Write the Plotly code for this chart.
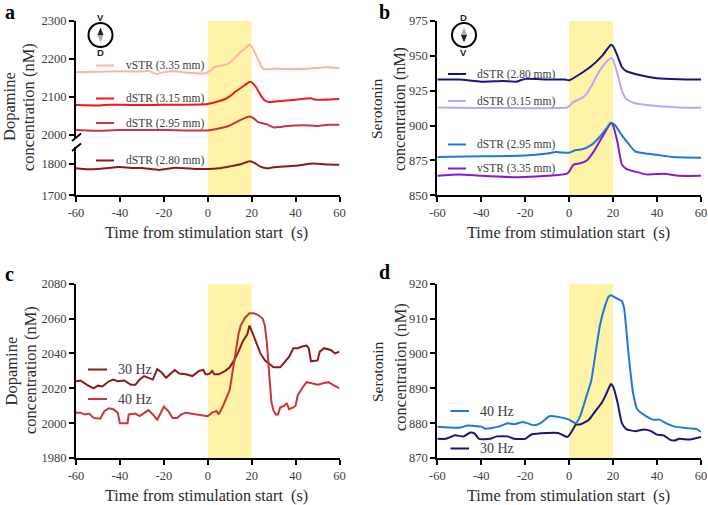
import plotly.graph_objects as go

W, H = 708, 505

# ---------- data ----------
a_vstr335_x = [-60,-50,-40,-30,-27,-23,-20,-15,-10,-5,-1,0,2,3,6,7,9,11,13,15,17,19,20,22,24,25,27,30,40,50,53,60]
a_vstr335_y = [2165,2166,2167,2167,2168,2160,2165,2167,2164,2162,2162,2165,2172,2178,2182,2183,2186,2195,2207,2218,2227,2237,2232,2210,2185,2175,2172,2174,2173,2176,2178,2176]
a_dstr315_x = [-60,-50,-45,-40,-30,-20,-10,0,5,8,10,13,16,19,20,22,24,26,28,32,40,47,49,53,60]
a_dstr315_y = [2078,2077,2079,2079,2078,2079,2079,2081,2088,2094,2101,2115,2127,2139,2138,2125,2105,2090,2086,2088,2092,2096,2092,2092,2094]
a_dstr295_x = [-60,-52,-40,-20,0,5,10,15,19,21,23,27,30,33,35,44,50,55,60]
a_dstr295_y = [2012,2010,2012,2012,2011,2016,2024,2039,2048,2043,2033,2027,2019,2020,2022,2025,2023,2026,2026]
a_dstr280_x = [-60,-55,-50,-40,-35,-30,-22,-15,-5,0,5,10,15,19,21,24,27,30,40,48,55,60]
a_dstr280_y = [1785,1782,1783,1789,1786,1786,1780,1787,1783,1783,1785,1791,1798,1807,1803,1790,1785,1788,1793,1800,1797,1796]

b_dstr280_x = [-60,-50,-40,-30,-24,-20,-10,-2,0,5,10,15,19,20,22,24,26,30,40,50,60]
b_dstr280_y = [933,933,931.5,932,931.5,933.5,933,933,932.5,937,942.5,950,958,957,950,942,939,937,934,933.2,933]
b_dstr315_x = [-60,-1,0,2,4,6,8,10,13,16,19,20,22,24,26,30,40,50,60]
b_dstr315_y = [913,913,914,917,918.5,920,923,928,937,944,948.5,947,937,925,919,916,914,913,912.7]
b_vstr335_x = [-60,-50,-40,-25,-15,-5,-1,0,2,5,8,11,14,17,19,20,22,24,26,30,35,43,50,60]
b_vstr335_y = [864,865,864,863,863.5,864.5,865.5,867,872,873,875,881,889,897,902,900,888,872,869,867,865,865.5,864,864]
b_dstr295_x = [-60,-40,-20,-10,-6,0,3,6,10,14,17,19,21,24,27,30,35,40,47,60]
b_dstr295_y = [877.5,878,878.5,880,881,880.5,882.5,883,886,892,898,902,900,893,887,881.5,880,879,877.5,877]

c_30_x = [-60,-58,-55,-52,-50,-48,-45,-43,-41,-38,-35,-33,-31,-29,-27,-25,-23,-21,-19,-17,-15,-13,-10,-7,-4,-2,-1,0,1,2,3,5,8,10,12,14,16,18,19,20,22,24,26,28,30,33,35,37,39,41,43,45,46,47,50,51,53,56,58,60]
c_30_y = [2024,2024.5,2022,2020,2021.5,2021,2024,2025,2024,2024.5,2022,2022,2025,2027,2026,2025,2031,2029,2026,2028,2030.5,2028.5,2028,2027,2030,2030.5,2028,2028,2028.5,2030,2028,2028,2030,2032,2036,2041,2047,2051,2056,2053,2047,2040,2036,2034,2032,2032,2035,2038,2043,2043,2044,2044.5,2043,2035.5,2036,2041,2043,2042,2040,2041]
c_40_x = [-60,-58,-56,-54,-52,-49,-47,-45,-43,-41,-40,-38,-36.5,-36,-33,-31,-29,-27,-25,-23,-21,-20,-18,-16,-14,-12,-10,-5,0,2,4,5,7,9,10,11,12,13,14,15,17,19,21,23,25,26,27,28,29,30,31,32,33,35,36,37,39,40,41,43,45,47,50,53,55,57,60]
c_40_y = [2006,2006,2005,2005.5,2003,2002.5,2007,2008.5,2008,2006,2000,2000,2000,2005,2005.5,2004,2006,2007.5,2005,2002,2007,2009.5,2007,2003,2003,2005,2006,2005,2004,2006,2007,2005,2010,2016,2019,2027,2035,2043,2051,2056,2060.5,2063,2063,2062,2060,2056,2045,2028,2012,2007,2005,2005,2009,2010,2011.5,2008,2009,2010,2016,2020,2023.5,2023,2022,2023,2023.5,2022,2020]

d_40_x = [-60,-50,-46,-40,-38,-32,-28,-25,-21,-16,-13,-9,-5,0,3,5,8,10,12,14,16,18,19,21,24,25,27,29,31,35,38,41,44,48,55,58,60]
d_40_y = [879,878.7,879.3,879,878.4,879,880,879.7,880.3,879.4,880,882,881.8,881,880,882,888,892,900,908,913,916.3,916.7,916,915,913,900,889,884,882,881,881,880,879,878.5,878.3,877.5]
d_30_x = [-60,-56,-52,-48,-45,-43,-41,-36,-33,-28,-25,-20,-17,-10,-5,-1,0,2,3,5,9,12,15,17,19,20,22,24,26,30,34,37,40,43,46,48,50,55,60]
d_30_y = [875.5,875.5,876.5,876.2,877.3,877,875.5,875.5,876.2,876.2,875.5,875.5,876.8,877.2,877.2,876,876.5,878.5,879.6,879.6,881,883.5,886,888.5,891.2,890.5,886,880,878.3,877.7,878.2,877.8,876.7,876.5,875.2,875,875.5,875.3,876]

x_ticks = [-60,-40,-20,0,20,40,60]
x_title = "Time from stimulation start  (s)"
stim_window = [0, 20]

C_SALMON, C_RED, C_MID, C_DARK = "#FBB5A5", "#F0181E", "#C8373A", "#8A1A1E"
C_NAVY, C_LILAC, C_BLUE, C_PURPLE = "#16167E", "#BBA8F2", "#1B78DC", "#8A18D0"
YELLOW = "#FEF3A6"
SERIF = "Liberation Serif"
TICK_C = "#3c3c3c"
TITLE_C = "#2a2a2a"

# panel pixel boxes: left, right, top, bottom
BOX = {"a": (76, 339.5, 21, 195.3), "b": (437.3, 701, 21, 195.3),
       "c": (76, 339.5, 283.7, 458), "d": (437.3, 701, 283.7, 458)}
px = lambda v: v / W
py = lambda v: 1 - v / H

fig = go.Figure()
layout = dict(template="none", width=W, height=H, margin=dict(l=0, r=0, t=0, b=0, pad=0, autoexpand=False),
              paper_bgcolor="white", plot_bgcolor="rgba(0,0,0,0)", showlegend=False,
              font=dict(family=SERIF, color=TICK_C))
shapes, annos = [], []

axis_common = dict(showgrid=False, zeroline=False, showline=True, linecolor="black", linewidth=2,
                   automargin=False, ticks="outside", tickcolor="black", tickwidth=1.6, ticklen=5,
                   tickfont=dict(family=SERIF, size=12.5, color=TICK_C))

def xaxis(box, anchor):
    return dict(domain=[px(box[0]), px(box[1])], range=[-60, 60], tickmode="array", tickvals=x_ticks,
                ticktext=[str(t) for t in x_ticks], anchor=anchor, **axis_common)

def yaxis(top, bottom, rng, ticks, anchor):
    return dict(domain=[py(bottom), py(top)], range=rng, tickmode="array", tickvals=ticks,
                ticktext=[str(t) for t in ticks], anchor=anchor, **axis_common)

# panel a: broken axis made of two y axes
layout["xaxis"] = xaxis(BOX["a"], "y2")
layout["yaxis"] = yaxis(21, 137.5, [1992.4, 2300], [2000, 2100, 2200, 2300], "x")
layout["yaxis2"] = yaxis(147, 195.3, [1700, 1852], [1700, 1800], "x")
# panel b
layout["xaxis2"] = xaxis(BOX["b"], "y3")
layout["yaxis3"] = yaxis(21, 195.3, [850, 975], [850, 875, 900, 925, 950, 975], "x2")
# panel c
layout["xaxis3"] = xaxis(BOX["c"], "y4")
layout["yaxis4"] = yaxis(283.7, 458, [1980, 2080], [1980, 2000, 2020, 2040, 2060, 2080], "x3")
# panel d
layout["xaxis4"] = xaxis(BOX["d"], "y5")
layout["yaxis5"] = yaxis(283.7, 458, [870, 920], [870, 880, 890, 900, 910, 920], "x4")

def line(x, y, color, xa, ya, shape="spline"):
    fig.add_trace(go.Scatter(x=x, y=y, mode="lines", line=dict(color=color, width=2, shape=shape, smoothing=0.5),
                             xaxis=xa, yaxis=ya, hoverinfo="skip", cliponaxis=False))

line(a_vstr335_x, a_vstr335_y, C_SALMON, "x", "y")
line(a_dstr315_x, a_dstr315_y, C_RED, "x", "y")
line(a_dstr295_x, a_dstr295_y, C_MID, "x", "y")
line(a_dstr280_x, a_dstr280_y, C_DARK, "x", "y2")
line(b_dstr280_x, b_dstr280_y, C_NAVY, "x2", "y3")
line(b_dstr315_x, b_dstr315_y, C_LILAC, "x2", "y3")
line(b_vstr335_x, b_vstr335_y, C_PURPLE, "x2", "y3")
line(b_dstr295_x, b_dstr295_y, C_BLUE, "x2", "y3")
line(c_30_x, c_30_y, C_DARK, "x3", "y4", "linear")
line(c_40_x, c_40_y, C_MID, "x3", "y4", "linear")
line(d_30_x, d_30_y, C_NAVY, "x4", "y5")
line(d_40_x, d_40_y, C_BLUE, "x4", "y5")

# stimulation window
for key, xa in zip("abcd", ["x", "x2", "x3", "x4"]):
    b = BOX[key]
    shapes.append(dict(type="rect", xref=xa, yref="paper", x0=stim_window[0], x1=stim_window[1],
                       y0=py(b[3]), y1=py(b[2]), fillcolor=YELLOW, line=dict(width=0), layer="below"))

def pxline(x0, y0, x1, y1, color, width):
    shapes.append(dict(type="line", xref="paper", yref="paper", x0=px(x0), x1=px(x1), y0=py(y0), y1=py(y1),
                       line=dict(color=color, width=width)))

def text(x, y, s, size=13, color=TICK_C, angle=0, anchor="center", bold=False, family=SERIF):
    annos.append(dict(xref="paper", yref="paper", x=px(x), y=py(y), text=f"<b>{s}</b>" if bold else s,
                      showarrow=False, xanchor=anchor, yanchor="middle", textangle=angle, borderpad=0,
                      font=dict(family=family, size=size, color=color)))

# axis break slashes
pxline(72, 141, 81, 133.5, "black", 1.8)
pxline(72, 151, 81, 143.5, "black", 1.8)

# in-plot legends
legend = [
    (96, 114, 65.5, C_SALMON, 124.5, "vSTR (3.35 mm)"), (96, 114, 98.5, C_RED, 124.5, "dSTR (3.15 mm)"),
    (96, 114, 123, C_MID, 124.5, "dSTR (2.95 mm)"), (96, 114, 160.5, C_DARK, 124.5, "dSTR (2.80 mm)"),
    (448, 466, 74, C_NAVY, 476, "dSTR (2.80 mm)"), (448, 466, 101, C_LILAC, 476, "dSTR (3.15 mm)"),
    (448, 466, 144.5, C_BLUE, 476, "dSTR (2.95 mm)"), (448, 466, 168.5, C_PURPLE, 476, "vSTR (3.35 mm)"),
    (88, 107, 369.5, C_DARK, 116.5, "30 Hz"), (88, 107, 399, C_MID, 116.5, "40 Hz"),
    (450.5, 469, 411, C_BLUE, 479, "40 Hz"), (450.5, 469, 448.5, C_NAVY, 479, "30 Hz"),
]
for x0, x1, y, col, tx, label in legend:
    pxline(x0, y, x1, y, col, 2)
    text(tx, y + 0.3, label, size=14 if "Hz" in label else 11.5, anchor="left")

# titles
for key in "abcd":
    b = BOX[key]
    text((b[0] + b[1]) / 2 - 1, b[3] + 38, x_title, size=16.2, color=TITLE_C)

text(10, 107, "Dopamine", size=16.5, color=TITLE_C, angle=-90)
text(29, 107, "concentration (nM)", size=16.5, color=TITLE_C, angle=-90)
text(377, 108, "Serotonin", size=15.5, color=TITLE_C, angle=-90)
text(400, 109, "concentration (nM)", size=16, color=TITLE_C, angle=-90)
text(10.5, 371, "Dopamine", size=16.5, color=TITLE_C, angle=-90)
text(30, 370, "concentration (nM)", size=16.5, color=TITLE_C, angle=-90)
text(377, 371, "Serotonin", size=15.5, color=TITLE_C, angle=-90)
text(400, 367, "concentration (nM)", size=16.5, color=TITLE_C, angle=-90)

# panel letters
for s, x, y in [("a", 10, 12), ("b", 385, 12), ("c", 9.5, 273.5), ("d", 385, 272)]:
    text(x, y, s, size=20, color="black", bold=True)

# orientation badges
def compass(cx, cy, top, bottom, top_color, bottom_color):
    shapes.append(dict(type="circle", xref="paper", yref="paper", x0=px(cx - 12), x1=px(cx + 12),
                       y0=py(cy + 12), y1=py(cy - 12), line=dict(color="black", width=2), fillcolor="white"))
    up = f"M {px(cx-3)} {py(cy)} L {px(cx)} {py(cy-7.5)} L {px(cx+3)} {py(cy)} Z"
    dn = f"M {px(cx-3)} {py(cy)} L {px(cx)} {py(cy+7.5)} L {px(cx+3)} {py(cy)} Z"
    shapes.append(dict(type="path", xref="paper", yref="paper", path=up, fillcolor=top_color, line=dict(width=0)))
    shapes.append(dict(type="path", xref="paper", yref="paper", path=dn, fillcolor=bottom_color, line=dict(width=0)))
    text(cx, cy - 17.5, top, size=9.5, color="#222222", bold=True, family="Liberation Sans")
    text(cx, cy + 18, bottom, size=9.5, color="#222222", bold=True, family="Liberation Sans")

compass(100.5, 35, "V", "D", "#222222", "#aaaaaa")
compass(464, 35, "D", "V", "#aaaaaa", "#222222")

layout["shapes"] = shapes
layout["annotations"] = annos
fig.update_layout(**layout)
fig.write_html("out.html", config={"displayModeBar": False}, post_script="document.body.style.margin='0';")
